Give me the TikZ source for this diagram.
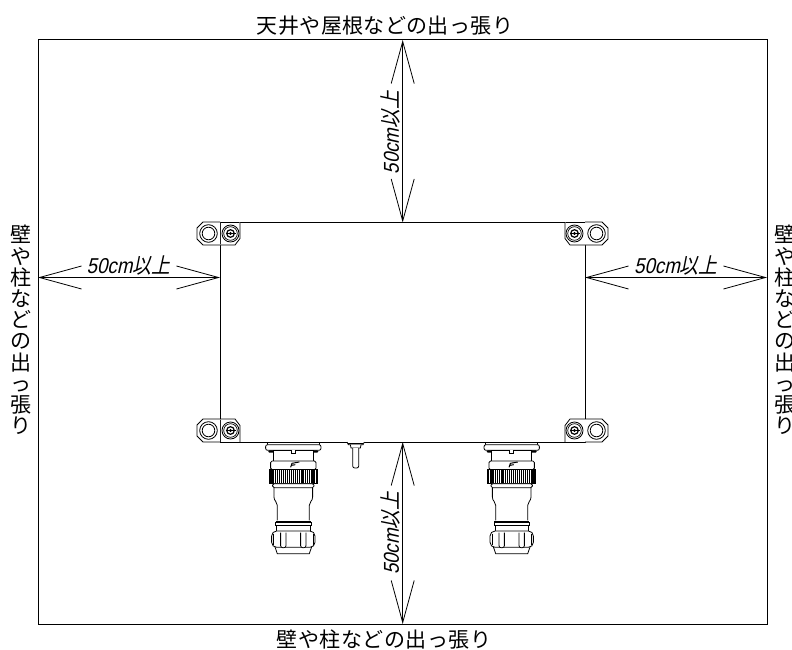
\documentclass[tikz,border=0pt]{standalone}
\usepackage{fontspec}
\setmainfont{Noto Sans CJK JP}
\newfontfamily\latinfont{Liberation Sans}
\usetikzlibrary{arrows.meta}
\tikzset{
  outline/.style={draw=black,line width=1pt},
  thin part/.style={draw=black,line width=0.8pt,fill=white},
  dim line/.style={draw=black,line width=1pt,{Straight Barb[length=42pt,width=23pt,line width=0.8pt]}-{Straight Barb[length=42pt,width=23pt,line width=0.8pt]}},
  wall label/.style={inner sep=0pt,font=\fontsize{21}{21}\selectfont},
  vertical label/.style={inner sep=0pt,align=center,font=\fontsize{21}{21.2}\selectfont},
  dim label/.style={inner sep=0pt,transform shape,font=\fontsize{21.5}{21.5}\selectfont}
}
\newcommand{\dimtext}{{\latinfont 50cm}以上}
\newcommand{\vertwall}{壁\\や\\柱\\な\\ど\\の\\出\\っ\\張\\り}
\newcommand{\mountlug}[4]{%
  \begin{scope}[shift={(#1,#2)},xscale=#3,yscale=#4]
    \draw[thin part] (0,-11.5) -- (-17,-11.5) -- (-23,-5.5) -- (-23,5.5) -- (-17,11.5) -- (0,11.5);
    \draw[thin part] (-11.5,0) circle (8.8) (-11.5,0) circle (6.3);
    \draw[thin part] (0,11.5) -- (15,11.5) -- (20,5) -- (20,-11.5);
    \draw[thin part] (10.5,0) circle (8.5);
    \draw[draw=black,line width=0.7pt] (10.5,0) circle (6.8);
    \draw[draw=black,line width=1.2pt] (10.5,0) circle (3.8);
    \fill[black] (10.5,0) circle (1.6);
    \draw[draw=black,line width=0.7pt] (5.5,0) -- (15.5,0);
  \end{scope}}
\newcommand{\connector}[2]{%
  \begin{scope}[shift={(#1,#2)},x=0.3333pt,y=-0.3333pt]
    \draw[thin part] (-78,0) rectangle (78,10);
    \draw[thin part,rounded corners=2pt] (-83,8) rectangle (83,25);
    \fill[black,rounded corners=1pt] (-75,25) rectangle (-47,32) (47,25) rectangle (75,32);
    \draw[thin part] (-60,25) rectangle (60,57);
    \fill[white] (-44,25.5) rectangle (44,30);
    \draw[thin part] (-6,25) -- (-6,34) -- (6,34) -- (6,25);
    \draw[thin part,rounded corners=1.5pt] (-68,57) rectangle (68,83);
    \draw[draw=black,line width=1pt] (-8,76) -- (-4,64) -- (18,60) (-5,70) -- (6,68);
    \draw[thin part] (-72,83) rectangle (72,125);
    \foreach \k in {-69,-64,-59,-54,-48,-42,-36,-29,-24,-18,-12,-6,0,6,12,18,24,29,36,42,48,54,59,64,69}
      \draw[draw=black,line width=1.1pt] (\k,85) -- (\k,123);
    \draw[draw=black,line width=1.1pt] (-72,83) -- (72,83) (-72,125) -- (72,125);
    \draw[thin part,rounded corners=1.5pt] (-62,125) rectangle (62,137);
    \draw[thin part] (-58,137) -- (-58,165) .. controls (-58,178) and (-48,178) .. (-48,190) -- (-48,235);
    \draw[thin part] (58,137) -- (58,165) .. controls (58,178) and (48,178) .. (48,190) -- (48,235);
    \draw[thin part] (-53,240) rectangle (53,250);
    \draw[draw=black,line width=1.4pt] (-53,240) -- (53,240);
    \draw[thin part] (-50,250) rectangle (50,267);
    \draw[thin part] (-56,312) -- (-48,335) -- (48,335) -- (56,312);
    \draw[thin part,rounded corners=5pt] (-65,267) rectangle (65,316);
    \draw[draw=black,line width=0.6pt] (-59,275) -- (-59,309) (59,275) -- (59,309);
    \draw[thin part,rounded corners=2pt] (-38,272) -- (-38,317) -- (-22,317) -- (-22,272);
    \draw[thin part,rounded corners=2pt] (22,272) -- (22,317) -- (38,317) -- (38,272);
  \end{scope}}
\begin{document}
\begin{tikzpicture}[x=1pt,y=-1pt]
  \useasboundingbox (0,0) rectangle (792,650);
  \node[outline,outer sep=0pt,inner sep=0pt,minimum width=729pt,minimum height=584pt,anchor=north west] (frame) at (38,40) {};
  \node[outline,outer sep=0pt,inner sep=0pt,minimum width=365pt,minimum height=219.5pt,anchor=north west] (box) at (220,222.5) {};

  \mountlug{220}{233.5}{1}{1}
  \mountlug{220}{430.5}{1}{-1}
  \mountlug{585}{233.5}{-1}{1}
  \mountlug{585}{430.5}{-1}{-1}

  \connector{293.3}{442}
  \connector{511.7}{442}

  % toggle
  \begin{scope}[shift={(355.7,442)},x=0.3333pt,y=-0.3333pt]
    \draw[thin part] (-26,0) -- (-22,8) -- (22,8) -- (26,0);
    \draw[thin part] (-16,8) -- (-14,18) -- (14,18) -- (16,8);
    \draw[draw=black,line width=1pt] (-22,4) -- (22,4);
    \draw[thin part,rounded corners=2pt] (-9,18) -- (-9,78) -- (9,78) -- (9,18);
  \end{scope}

  \coordinate (midtop) at (402.7,40);
  \coordinate (midbot) at (402.7,624);
  \coordinate (midy) at (38,277.5);
  \draw[dim line] (midtop) -- (midtop |- box.north);
  \draw[dim line] (midtop |- box.south) -- (midbot);
  \draw[dim line] (midy) -- (midy -| box.west);
  \draw[dim line] (midy -| box.east) -- (midy -| frame.east);

  \node[wall label] (toplabel) at (385,26) {\addfontfeatures{LetterSpace=1.8}天井や屋根などの出っ張り};
  \node[wall label] (botlabel) at (384,640) {\addfontfeatures{LetterSpace=2.6}壁や柱などの出っ張り};
  \node[vertical label] (leftlabel) at (21,330) {\vertwall};
  \node[vertical label] (rightlabel) at (785,330) {\vertwall};

  \node[dim label,xslant=0.22,xscale=0.87] (dl) at (130,266) {\dimtext};
  \node[dim label,xslant=0.22,xscale=0.87] (dr) at (677.5,266) {\dimtext};
  \node[dim label,rotate=90,xslant=0.22,xscale=0.87] (dt) at (391,131) {\dimtext};
  \node[dim label,rotate=90,xslant=0.22,xscale=0.87] (db) at (391,531.5) {\dimtext};
\end{tikzpicture}
\end{document}
